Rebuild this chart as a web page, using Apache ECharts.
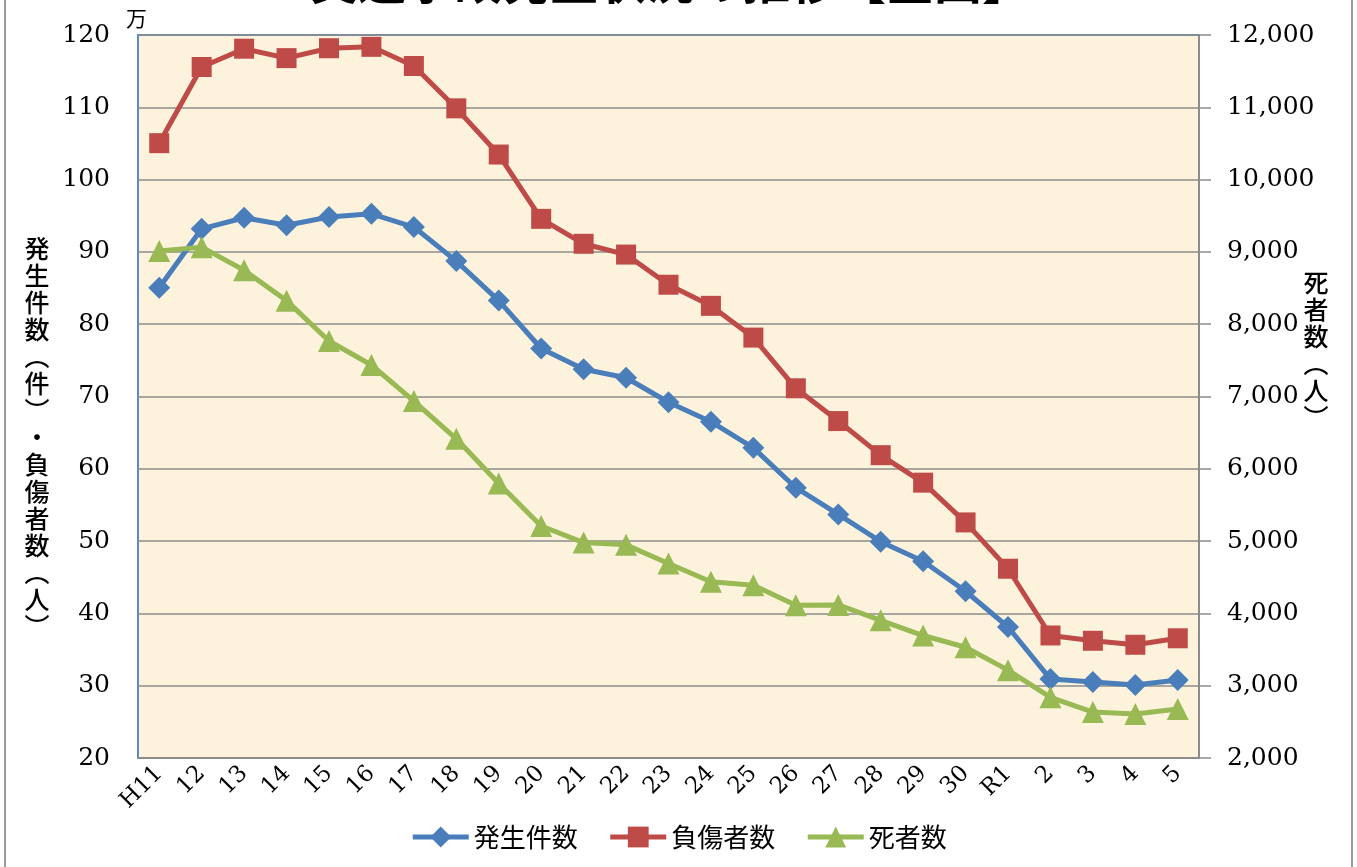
<!DOCTYPE html>
<html>
<head>
<meta charset="utf-8">
<script src="https://cdn.jsdelivr.net/npm/echarts@6/dist/echarts.min.js"></script>
<style>
  html, body { margin: 0; padding: 0; background: #fff; }
  #chart { width: 1357px; height: 867px; }
</style>
</head>
<body>
<div id="chart"></div>
<script>
// 年次 (平成11年〜令和5年)
const years = ['H11', '12', '13', '14', '15', '16', '17', '18', '19', '20', '21', '22',
  '23', '24', '25', '26', '27', '28', '29', '30', 'R1', '2', '3', '4', '5']

// 発生件数 (件)
const accidents = [850371, 931950, 947253, 936950, 948281, 952720, 934346, 887267, 832704,
  766394, 737637, 725924, 692084, 665157, 629033, 573842, 536899, 499201, 472165, 430601,
  381237, 309178, 305196, 300839, 307930]

// 負傷者数 (人)
const injured = [1050399, 1155707, 1181039, 1168029, 1181681, 1183617, 1157113, 1098564,
  1034652, 945703, 911215, 896297, 854613, 825392, 781494, 711374, 666023, 618853, 580850,
  525846, 461775, 369476, 362131, 356601, 365595]

// 死者数 (人)
const deaths = [9012, 9066, 8747, 8326, 7768, 7436, 6937, 6415, 5796, 5209, 4979, 4948,
  4691, 4438, 4388, 4113, 4117, 3904, 3694, 3532, 3215, 2839, 2636, 2610, 2678]

const seriesNames = ['発生件数', '負傷者数', '死者数']

const serif = '"DejaVu Serif", "Liberation Serif", serif'
const jp = '"Noto Sans CJK JP", sans-serif'

const chart = echarts.init(document.getElementById('chart'))

const vertical = (s) => s.split('').join('\n')

const option = {
  backgroundColor: '#fff',
  animation: false,
  color: ['#4a7ebb', '#be4b48', '#98b954'],
  grid: {
    left: 138,
    right: 158,
    top: 35,
    bottom: 109,
    show: true,
    backgroundColor: '#fdf3dc',
    borderColor: '#5b8cc7',
    borderWidth: 2
  },
  legend: {
    data: seriesNames,
    bottom: 12,
    left: 'center',
    itemWidth: 56,
    itemHeight: 26,
    itemGap: 30,
    lineStyle: { width: 5 },
    textStyle: { fontFamily: jp, fontSize: 26, color: '#000' }
  },
  xAxis: {
    type: 'category',
    data: years,
    boundaryGap: true,
    axisLine: { show: true, lineStyle: { color: '#8c8c8c', width: 2 } },
    axisTick: { show: false },
    axisLabel: {
      interval: 0,
      rotate: 45,
      margin: 12,
      fontFamily: serif,
      fontSize: 23,
      color: '#000'
    }
  },
  yAxis: [
    {
      type: 'value',
      min: 200000,
      max: 1200000,
      interval: 100000,
      axisLine: { show: false },
      axisTick: { show: false },
      splitLine: { lineStyle: { color: '#8c8c8c', width: 1.5 } },
      axisLabel: {
        margin: 28,
        fontFamily: serif,
        fontSize: 25,
        color: '#000',
        formatter: (v) => String(v / 10000)
      }
    },
    {
      type: 'value',
      min: 2000,
      max: 12000,
      interval: 1000,
      position: 'right',
      axisLine: { show: true, lineStyle: { color: '#8c8c8c', width: 2 } },
      axisTick: { show: true, length: 12, lineStyle: { color: '#8c8c8c', width: 1.5 } },
      splitLine: { show: false },
      axisLabel: {
        margin: 28,
        fontFamily: serif,
        fontSize: 25,
        color: '#000',
        formatter: (v) => v.toLocaleString('en-US')
      }
    }
  ],
  series: [
    {
      name: seriesNames[0],
      type: 'line',
      yAxisIndex: 0,
      data: accidents,
      symbol: 'diamond',
      symbolSize: 22,
      lineStyle: { width: 5 }
    },
    {
      name: seriesNames[1],
      type: 'line',
      yAxisIndex: 0,
      data: injured,
      symbol: 'rect',
      symbolSize: 20,
      lineStyle: { width: 5 }
    },
    {
      name: seriesNames[2],
      type: 'line',
      yAxisIndex: 1,
      data: deaths,
      symbol: 'triangle',
      symbolSize: 22,
      lineStyle: { width: 5 }
    }
  ],
  graphic: [
    // outer frame
    { type: 'line', shape: { x1: 5, y1: 0, x2: 5, y2: 867 }, style: { stroke: '#999', lineWidth: 2 } },
    { type: 'line', shape: { x1: 1352, y1: 0, x2: 1352, y2: 867 }, style: { stroke: '#999', lineWidth: 2 } },
    // title, cut off at the top
    {
      type: 'text', x: 670, y: 5,
      style: {
        text: '交通事故発生状況の推移【全国】',
        fontFamily: jp, fontSize: 48, fontWeight: 'bold', fill: '#000',
        align: 'center', verticalAlign: 'bottom'
      }
    },
    {
      type: 'text', x: 126, y: 8,
      style: { text: '万', fontFamily: jp, fontSize: 21, fill: '#000' }
    },
    {
      type: 'text', x: 37, y: 437,
      style: {
        text: vertical('発生件数︵件︶・負傷者数︵人︶'),
        fontFamily: jp, fontSize: 25, fontWeight: 500, lineHeight: 27, fill: '#000',
        align: 'center', verticalAlign: 'middle'
      }
    },
    {
      type: 'text', x: 1316, y: 350,
      style: {
        text: vertical('死者数︵人︶'),
        fontFamily: jp, fontSize: 25, fontWeight: 500, lineHeight: 27, fill: '#000',
        align: 'center', verticalAlign: 'middle'
      }
    }
  ]
}

chart.setOption(option)
</script>
</body>
</html>
